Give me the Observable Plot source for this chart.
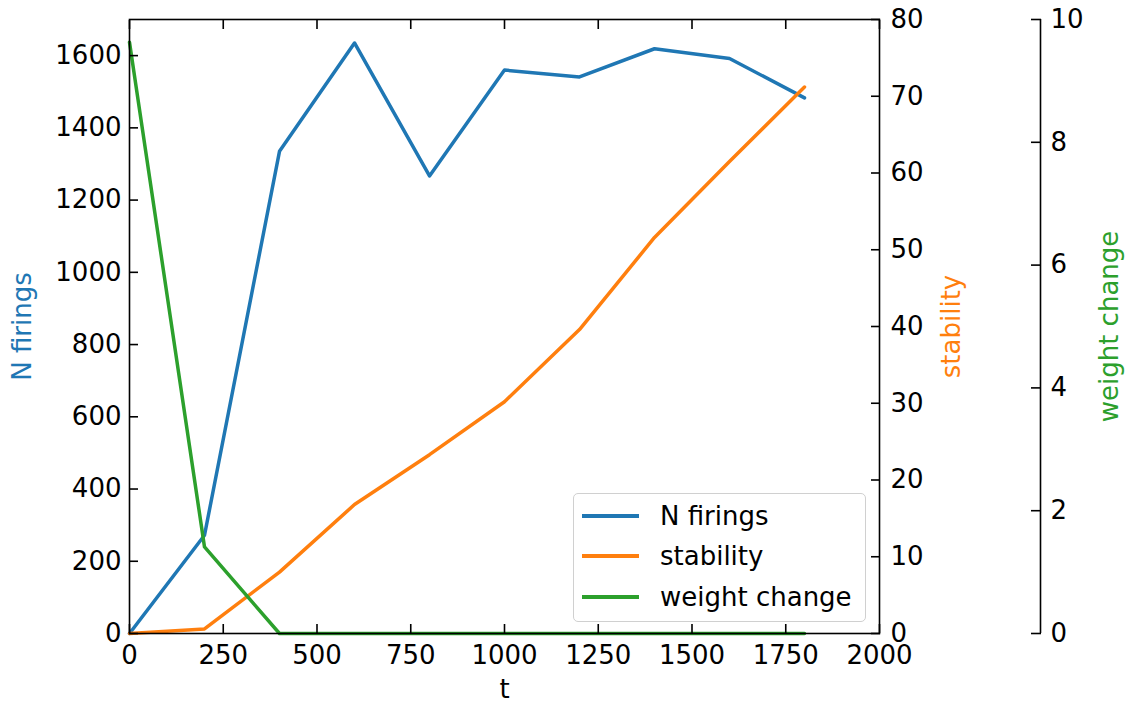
<!DOCTYPE html>
<html>
<head>
<meta charset="utf-8">
<script src="https://cdn.jsdelivr.net/npm/d3@7"></script>
<script src="https://cdn.jsdelivr.net/npm/@observablehq/plot@0.6"></script>
<style>
  body { margin: 0; background: white; font-family: "DejaVu Sans", sans-serif; }
  #wrap { position: relative; width: 1130px; height: 704px; }
  #legend { position: absolute; left: 573px; top: 493px; width: 293px; height: 129px;
    border: 1.5px solid #d0d0d0; border-radius: 5px; background: rgba(255,255,255,0.85);
    box-sizing: border-box; font-size: 26px; }
  .row { position: absolute; left: 0; height: 40px; display: flex; align-items: center; }
  .sw { position: absolute; left: 8px; width: 57px; height: 4px; }
  .lab { position: absolute; left: 86px; white-space: nowrap; line-height: 1; }
</style>
</head>
<body>
<div id="wrap"></div>
<script>
const t = [0, 200, 400, 600, 800, 1000, 1200, 1400, 1600, 1800];
const nFirings = [0, 272, 1335, 1635, 1267, 1560, 1541, 1619, 1592, 1483];
const stability = [0, 0.6, 8.0, 16.8, 23.3, 30.2, 39.6, 51.6, 61.5, 71.2];
const weightChange = [9.63, 1.41, 0, 0, 0, 0, 0, 0, 0, 0];

const xTicks = [0, 250, 500, 750, 1000, 1250, 1500, 1750, 2000];
const nTicks = [0, 200, 400, 600, 800, 1000, 1200, 1400, 1600];
const stabTicks = [0, 10, 20, 30, 40, 50, 60, 70, 80];
const wTicks = [0, 2, 4, 6, 8, 10];

const seriesNames = ["N firings", "stability", "weight change"];
const seriesColors = ["#1f77b4", "#ff7f0e", "#2ca02c"];

const nMax = 1700, stabMax = 80, wMax = 10;
const stabToN = d3.scaleLinear([0, stabMax], [0, nMax]);
const wToN = d3.scaleLinear([0, wMax], [0, nMax]);

const rows = t.map((tt, i) => ({t: tt, n: nFirings[i], s: stability[i], w: weightChange[i]}));

const chart = Plot.plot({
  width: 1130,
  height: 704,
  marginLeft: 129,
  marginRight: 251,
  marginTop: 19,
  marginBottom: 71,
  style: {fontSize: "26px", fontFamily: "DejaVu Sans", color: "black", background: "white"},
  x: {domain: [0, 2000]},
  y: {domain: [0, nMax]},
  marks: [
    Plot.lineY(rows, {x: "t", y: "n", stroke: seriesColors[0], strokeWidth: 3.5}),
    Plot.lineY(rows, {x: "t", y: d => stabToN(d.s), stroke: seriesColors[1], strokeWidth: 3.5}),
    Plot.lineY(rows, {x: "t", y: d => wToN(d.w), stroke: seriesColors[2], strokeWidth: 3.5}),
    Plot.frame({stroke: "black", strokeWidth: 1.6}),
    Plot.axisX(xTicks, {anchor: "bottom", tickSize: -9, tickPadding: 21, label: null, strokeWidth: 1.6,
      tickFormat: v => String(v)}),
    Plot.axisX(xTicks, {anchor: "top", tickSize: -9, tickFormat: () => "", label: null, strokeWidth: 1.6}),
    Plot.axisY(nTicks, {anchor: "left", tickSize: -9, tickPadding: 17, label: null, strokeWidth: 1.6,
      tickFormat: v => String(v)}),
    Plot.axisY(stabTicks.map(v => stabToN(v)), {anchor: "right", tickSize: -9, tickPadding: 20, label: null,
      tickFormat: v => String(Math.round(stabToN.invert(v))), strokeWidth: 1.6}),
    Plot.axisY(wTicks.map(v => wToN(v)), {anchor: "right", dx: 161, tickSize: -10, tickPadding: 20, label: null,
      tickFormat: v => String(Math.round(wToN.invert(v))), strokeWidth: 1.6}),
    Plot.ruleX([2000], {dx: 161, stroke: "black", strokeWidth: 1.6}),
    Plot.text(["t"], {frameAnchor: "bottom", dy: 56, lineAnchor: "middle", textAnchor: "middle", fill: "black"}),
    Plot.text([seriesNames[0]], {frameAnchor: "left", dx: -107, rotate: -90, textAnchor: "middle", lineAnchor: "middle", fill: seriesColors[0]}),
    Plot.text([seriesNames[1]], {frameAnchor: "right", dx: 72, rotate: -90, textAnchor: "middle", lineAnchor: "middle", fill: seriesColors[1]}),
    Plot.text([seriesNames[2]], {frameAnchor: "right", dx: 230, rotate: -90, textAnchor: "middle", lineAnchor: "middle", fill: seriesColors[2]})
  ]
});

const wrap = document.getElementById("wrap");
wrap.appendChild(chart);

const rowTops = [2, 42, 83];
const legend = document.createElement("div");
legend.id = "legend";
seriesNames.forEach((name, i) => {
  const row = document.createElement("div");
  row.className = "row";
  row.style.top = rowTops[i] + "px";
  row.style.width = "100%";
  const sw = document.createElement("div");
  sw.className = "sw";
  sw.style.background = seriesColors[i];
  const lab = document.createElement("div");
  lab.className = "lab";
  lab.textContent = name;
  row.appendChild(sw);
  row.appendChild(lab);
  legend.appendChild(row);
});
wrap.appendChild(legend);
</script>
</body>
</html>
